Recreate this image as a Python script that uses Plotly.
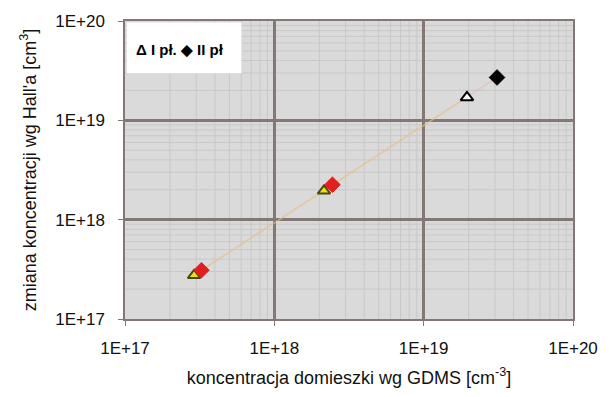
import plotly.graph_objects as go

# GDMS dopant concentration (x) vs. Hall concentration change (y), cm^-3
x_plate1 = [2.9e17, 2.15e18, 1.95e19]
y_plate1 = [2.75e17, 1.95e18, 1.7e19]
x_plate2 = [3.25e17, 2.45e18, 3.1e19]
y_plate2 = [3.1e17, 2.25e18, 2.7e19]

tick_vals = [1e17, 1e18, 1e19, 1e20]
tick_text = ["1E+17", "1E+18", "1E+19", "1E+20"]

fill_plate1 = ["#e6e21a", "#e6e21a", "#ffffff"]
line_plate1 = ["#4a4a10", "#4a4a10", "#000000"]
fill_plate2 = ["#e02020", "#e02020", "#000000"]

font = "Liberation Sans, Arial, sans-serif"
LOG_MIN, LOG_MAX = 17, 20

fig = go.Figure()

# trend lines through each series
fig.add_trace(go.Scatter(
    x=x_plate1, y=y_plate1, mode="lines",
    line=dict(color="rgba(235,215,120,0.5)", width=1.5),
    hoverinfo="skip", showlegend=False))
fig.add_trace(go.Scatter(
    x=x_plate2, y=y_plate2, mode="lines",
    line=dict(color="rgba(240,160,150,0.35)", width=1.5),
    hoverinfo="skip", showlegend=False))

fig.add_trace(go.Scatter(
    x=x_plate1, y=y_plate1, mode="markers", name="I pł.",
    marker=dict(symbol="triangle-up", size=11, color=fill_plate1,
                line=dict(color=line_plate1, width=2)),
    showlegend=False))
fig.add_trace(go.Scatter(
    x=x_plate2, y=y_plate2, mode="markers", name="II pł",
    marker=dict(symbol="diamond", size=12, color=fill_plate2,
                line=dict(color=fill_plate2, width=1)),
    showlegend=False))

# grey plot background, then the minor log grid (2..9 in every decade)
fig.add_shape(type="rect", xref="x domain", yref="y domain",
              x0=0, x1=1, y0=0, y1=1, layer="below",
              fillcolor="#dadada", line=dict(width=0))
decades = [17, 18, 19]
for d in decades:
    for m in range(2, 10):
        v = m * 10.0 ** d
        fig.add_shape(type="line", xref="x", yref="y domain",
                      x0=v, x1=v, y0=0, y1=1, layer="below",
                      line=dict(color="#c8c8c8", width=1))
        fig.add_shape(type="line", xref="x domain", yref="y",
                      x0=0, x1=1, y0=v, y1=v, layer="below",
                      line=dict(color="#c8c8c8", width=1))

axis_common = dict(
    type="log", range=[LOG_MIN, LOG_MAX], tickvals=tick_vals, ticktext=tick_text,
    showgrid=True, gridcolor="#837875", gridwidth=2.5,
    ticks="outside", ticklen=5, tickcolor="#837875", tickwidth=1,
    showline=True, linecolor="#837875", linewidth=1.5, mirror=True,
    zeroline=False,
    tickfont=dict(family=font, size=17, color="#111111"),
)

fig.update_xaxes(
    **axis_common,
    ticklabelstandoff=8,
    title=dict(text="koncentracja domieszki wg GDMS [cm<sup>-3</sup>]",
               font=dict(family=font, size=18, color="#111111"),
               standoff=14),
)
fig.update_yaxes(
    **axis_common,
    ticklabelstandoff=10,
    title=dict(text="zmiana koncentracji wg Hall'a [cm<sup>3</sup>]",
               font=dict(family=font, size=18, color="#111111"),
               standoff=14),
)

# legend box in the upper-left corner of the plot
fig.add_shape(type="rect", xref="x domain", yref="y domain",
              x0=0.004, x1=0.26, y0=0.825, y1=0.995,
              fillcolor="#ffffff", line=dict(width=0), layer="above")
fig.add_annotation(xref="x domain", yref="y domain", x=0.02, y=0.905,
                   xanchor="left", yanchor="middle", showarrow=False,
                   text="<b>Δ I pł. ◆ II pł</b>",
                   font=dict(family=font, size=15, color="#000000"))

fig.update_layout(
    width=610, height=397,
    margin=dict(l=125, r=31, t=18, b=75),
    paper_bgcolor="#ffffff", plot_bgcolor="rgba(0,0,0,0)",
    showlegend=False,
)

fig.write_html("out.html")
